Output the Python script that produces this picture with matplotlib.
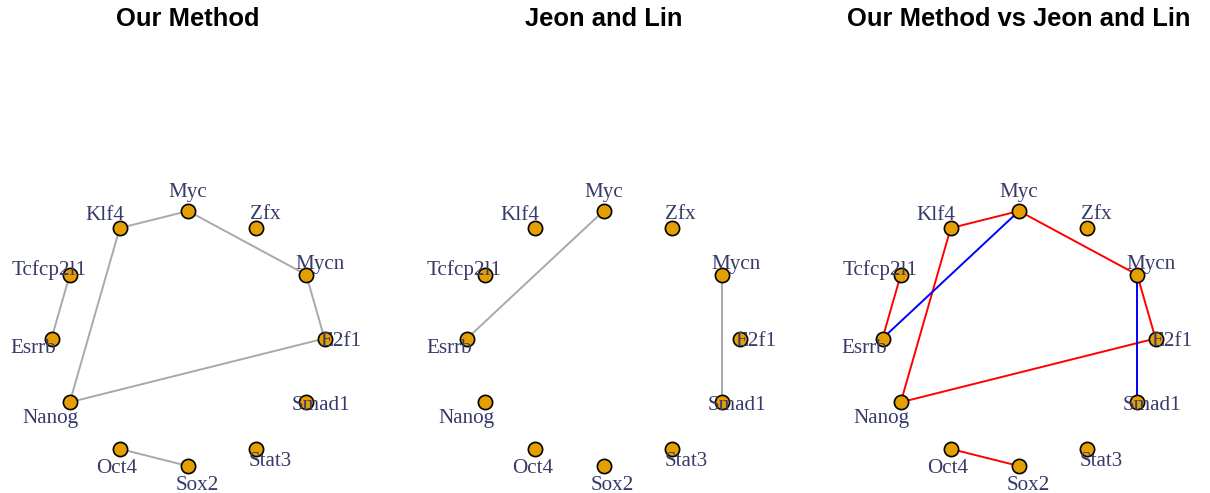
import numpy as np
import matplotlib.pyplot as plt

# genes in the order they go round the circle (counter-clockwise from the right)
genes = ["E2f1", "Mycn", "Zfx", "Myc", "Klf4", "Tcfcp2l1", "Esrrb",
         "Nanog", "Oct4", "Sox2", "Stat3", "Smad1"]

ours = [("Klf4", "Myc"), ("Myc", "Mycn"), ("Mycn", "E2f1"), ("E2f1", "Nanog"),
        ("Nanog", "Klf4"), ("Tcfcp2l1", "Esrrb"), ("Oct4", "Sox2")]
jeon = [("Myc", "Esrrb"), ("Mycn", "Smad1")]

titles = ["Our Method", "Jeon and Lin", "Our Method vs Jeon and Lin"]

# where each label sits relative to its vertex (pixels, x right / y down)
lab_off = {"Myc": (0, -21), "Zfx": (9, -16), "Mycn": (14, -12), "E2f1": (16, 1),
           "Smad1": (15, 1), "Stat3": (14, 11), "Sox2": (9, 17), "Oct4": (-3, 18),
           "Nanog": (-19, 14), "Esrrb": (-18, 8), "Tcfcp2l1": (-21, -7),
           "Klf4": (-15, -15)}

n = len(genes)
ang = 2 * np.pi * np.arange(n) / n
pos = {g: (np.cos(a), np.sin(a)) for g, a in zip(genes, ang)}

W, H = 1210, 493
fig = plt.figure(figsize=(W / 100, H / 100), dpi=100)

centers = [188, 603.5, 1019]
xl, yl = 1.3, 1.2
rx, ry = 136.5, 127.5
aw, ah = 2 * xl * rx, 2 * yl * ry
cy = H - 338.5


def draw_net(ax, edge_sets):
    for edges, col in edge_sets:
        for a, b in edges:
            ax.plot([pos[a][0], pos[b][0]], [pos[a][1], pos[b][1]],
                    color=col, lw=1.4, zorder=1, solid_capstyle="butt")
    xs = [pos[g][0] for g in genes]
    ys = [pos[g][1] for g in genes]
    ax.scatter(xs, ys, s=105, c="#E69F00", edgecolors="black",
               linewidths=1.2, zorder=2)
    for g in genes:
        dx, dy = lab_off[g]
        dy += 2
        ax.annotate(g, pos[g], xytext=(dx * 0.72, -dy * 0.72),
                    textcoords="offset points", ha="center", va="center",
                    fontsize=15.2, family="Liberation Serif",
                    color="#373a6a", zorder=3)


panels = [
    [(ours, "#A9A9A9")],
    [(jeon, "#A9A9A9")],
    [(ours, "red"), (jeon, "blue")],
]

for cx, t, sets in zip(centers, titles, panels):
    ax = fig.add_axes([(cx - aw / 2) / W, (cy - ah / 2) / H, aw / W, ah / H])
    ax.set_xlim(-xl, xl)
    ax.set_ylim(-yl, yl)
    ax.axis("off")
    draw_net(ax, sets)
    fig.text(cx / W, 1 - 26 / H, t, ha="center", va="baseline",
             fontsize=18.4, fontweight="bold", family="Liberation Sans")

fig.savefig("out.png", dpi=100)
